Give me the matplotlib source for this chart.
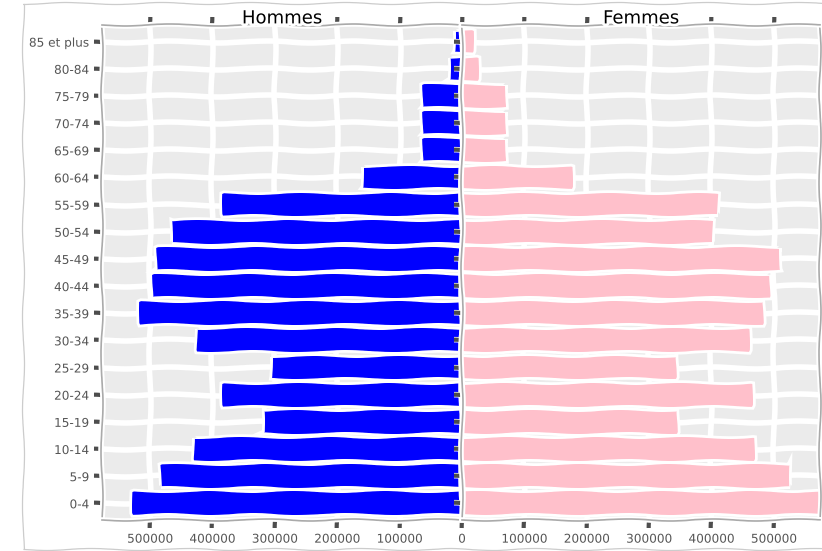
import matplotlib.pyplot as plt
from matplotlib.patches import Rectangle

# tranches d'age, du bas vers le haut
ages = ["0-4", "5-9", "10-14", "15-19", "20-24", "25-29", "30-34", "35-39",
        "40-44", "45-49", "50-54", "55-59", "60-64", "65-69", "70-74",
        "75-79", "80-84", "85 et plus"]
hommes = [527000, 482000, 429000, 317000, 383000, 304000, 425000, 516000,
          495000, 489000, 465000, 383000, 159000, 62000, 62000, 62500,
          19000, 11000]
femmes = [590000, 526000, 468000, 345000, 465000, 343000, 460000, 482000,
          494000, 510000, 402000, 410000, 176000, 70000, 70000, 70500,
          25600, 17600]
x_ticks = [0, 100000, 200000, 300000, 400000, 500000]
x_labels = ["0", "100000", "200000", "300000", "400000", "500000"]

plt.xkcd()
plt.rcParams['font.family'] = ['DejaVu Sans']
plt.rcParams['xtick.major.size'] = 5.5
plt.rcParams['ytick.major.size'] = 5.5
plt.rcParams['xtick.major.width'] = 3
plt.rcParams['ytick.major.width'] = 3

fig = plt.figure(figsize=(8.22, 5.51), dpi=100)
fig.patches.append(Rectangle((0.028, 0.004), 1.0, 0.99, transform=fig.transFigure,
                             fill=False, edgecolor='#cccccc', linewidth=0.9))

ax_h = fig.add_axes([0.124, 0.056, 0.438, 0.899])
ax_f = fig.add_axes([0.562, 0.056, 0.4355, 0.899], sharey=ax_h)

y = list(range(len(ages)))

for ax, vals, col, lim, title in [(ax_h, hommes, 'blue', (577000, 0), "Hommes"),
                                   (ax_f, femmes, 'pink', (0, 574000), "Femmes")]:
    ax.set_facecolor('#ebebeb')
    ax.set_axisbelow(True)
    ax.grid(True, color='white', linewidth=2.2)
    ax.barh(y, vals, height=0.8, color=col)
    ax.set_xlim(*lim)
    ax.set_xticks(x_ticks)
    ax.set_xticklabels(x_labels)
    ax.tick_params(axis='both', colors='#4d4d4d', labelcolor='#555555',
                   labelsize=8.7, top=True, labeltop=False, direction='out')
    for s in ax.spines.values():
        s.set_color('#aaaaaa')
        s.set_linewidth(1.2)
    ax.set_title(title, fontsize=13, pad=1)

ax_h.set_ylim(-0.62, 17.62)
ax_h.set_yticks(y)
ax_h.set_yticklabels(ages)
ax_f.tick_params(axis='y', labelleft=False)

fig.savefig('out.png', dpi=100)
